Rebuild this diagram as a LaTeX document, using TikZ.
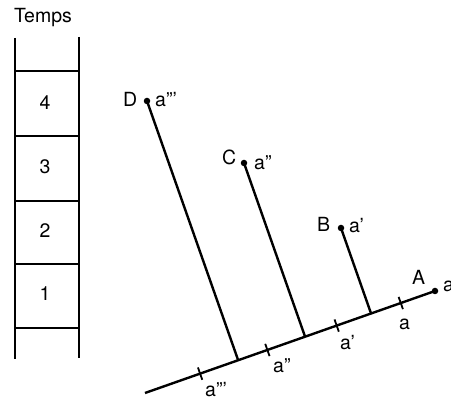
\documentclass[tikz,border=0pt]{standalone}
\usepackage{fontspec}
\setmainfont{TeX Gyre Heros}
\usetikzlibrary{calc}

\begin{document}
\begin{tikzpicture}[x=1pt,y=-1pt,
  every node/.style={inner sep=0pt,font=\fontsize{19.5}{22}\selectfont},
  lbl/.style={anchor=base west},
  dot/.style={circle,fill,inner sep=0pt,minimum size=6.5pt},
  axe/.style={line width=2.4pt}]
\useasboundingbox (0,0) rectangle (451,401);
% echelle du temps
\draw[line width=1.8pt] (15,38) -- (15,359);
\draw[line width=1.8pt] (79,37) -- (79,358);
\foreach \y in {71,136,201,264,328} {
  \draw[line width=1.8pt] (15,\y) -- (79,\y);
}
\node (temps) at (43,18) {Temps};
\foreach \i/\y in {4/103,3/167,2/231,1/294} {
  \node (t\i) at (45,\y) {\i};
}
% droite et points
\coordinate (s) at (145,393);
\node[dot] (A) at (435,291) {};
\node[dot] (B) at (341,228) {};
\node[dot] (C) at (244,163) {};
\node[dot] (D) at (147,101) {};
\draw[axe] (s) -- (A.center);
\foreach \p in {B,C,D} {
  \draw[axe] (\p.center) -- ($(s)!(\p)!(A)$);
}
\foreach \f/\n in {0.190/k3,0.422/k2,0.661/k1,0.882/k0} {
  \coordinate (\n) at ($(s)!\f!(A)$);
  \draw[line width=1.8pt] ($(\n)!6.5pt!90:(A)$) -- ($(\n)!6.5pt!-90:(A)$);
}
% noms
\node[lbl] (nA) at (412,285) {A};
\node[lbl] (nB) at (317,232) {B};
\node[lbl] (nC) at (222,165) {C};
\node[lbl] (nD) at (123,107) {D};
\node[lbl] (vA) at (443,292) {a};
\node[lbl] (vB) at (349,233) {a'};
\node[lbl] (vC) at (254,170) {a''};
\node[lbl] (vD) at (155,107) {a'''};
\node[lbl] (l0) at (399,330) {a};
\node[lbl] (l1) at (340,350) {a'};
\node[lbl] (l2) at (273,373) {a''};
\node[lbl] (l3) at (205,397) {a'''};
\end{tikzpicture}
\end{document}
